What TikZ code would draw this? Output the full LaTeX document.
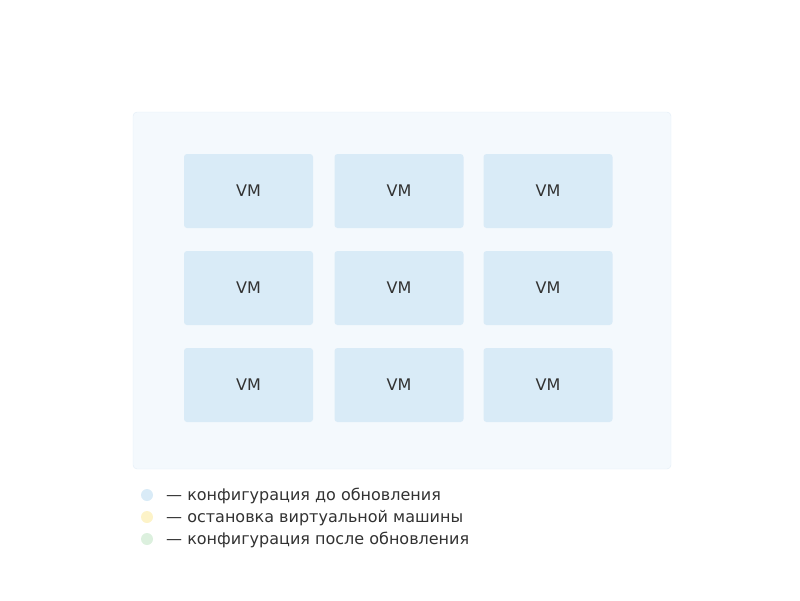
\documentclass[tikz,border=0pt]{standalone}
\usepackage{fontspec}
\setmainfont{DejaVu Sans}
\usetikzlibrary{positioning}
\definecolor{vmblue}{RGB}{217, 235, 247}
\definecolor{panelblue}{RGB}{244, 249, 253}
\definecolor{panelline}{RGB}{226, 237, 247}
\definecolor{stopyellow}{RGB}{253, 243, 200}
\definecolor{aftergreen}{RGB}{220, 240, 222}
\definecolor{labelgray}{RGB}{50, 50, 50}

\begin{document}
\begin{tikzpicture}[x=1pt, y=-1pt,
  vmbox/.style={fill=vmblue, rounded corners=3pt, minimum width=129pt, minimum height=74pt, inner sep=0pt, font=\fontsize{16}{18}\selectfont, text=labelgray},
  dot/.style={circle, inner sep=0pt, minimum size=12pt},
  legend/.style={anchor=west, inner sep=0pt, font=\fontsize{16}{18}\selectfont, text=labelgray}]
  \useasboundingbox (0,0) rectangle (800,600);
  % panel
  \draw[panelline, fill=panelblue, rounded corners=4pt] (133,112) rectangle (671,469);
  % vm grid
  \foreach \row/\y in {1/191, 2/288, 3/385} {
    \foreach \col/\x in {1/248.5, 2/399, 3/548} {
      \node[vmbox] (vm\row\col) at (\x,\y) {VM};
    }
  }
  % legend
  \node[dot, fill=vmblue] (dotbefore) at (147,495) {};
  \node[dot, fill=stopyellow] (dotstop) at (147,517) {};
  \node[dot, fill=aftergreen] (dotafter) at (147,539) {};
  \node[legend] (txtbefore) at (166,496) {— конфигурация до обновления};
  \node[legend] (txtstop) at (166,518) {— остановка виртуальной машины};
  \node[legend] (txtafter) at (166,540) {— конфигурация после обновления};
\end{tikzpicture}
\end{document}
